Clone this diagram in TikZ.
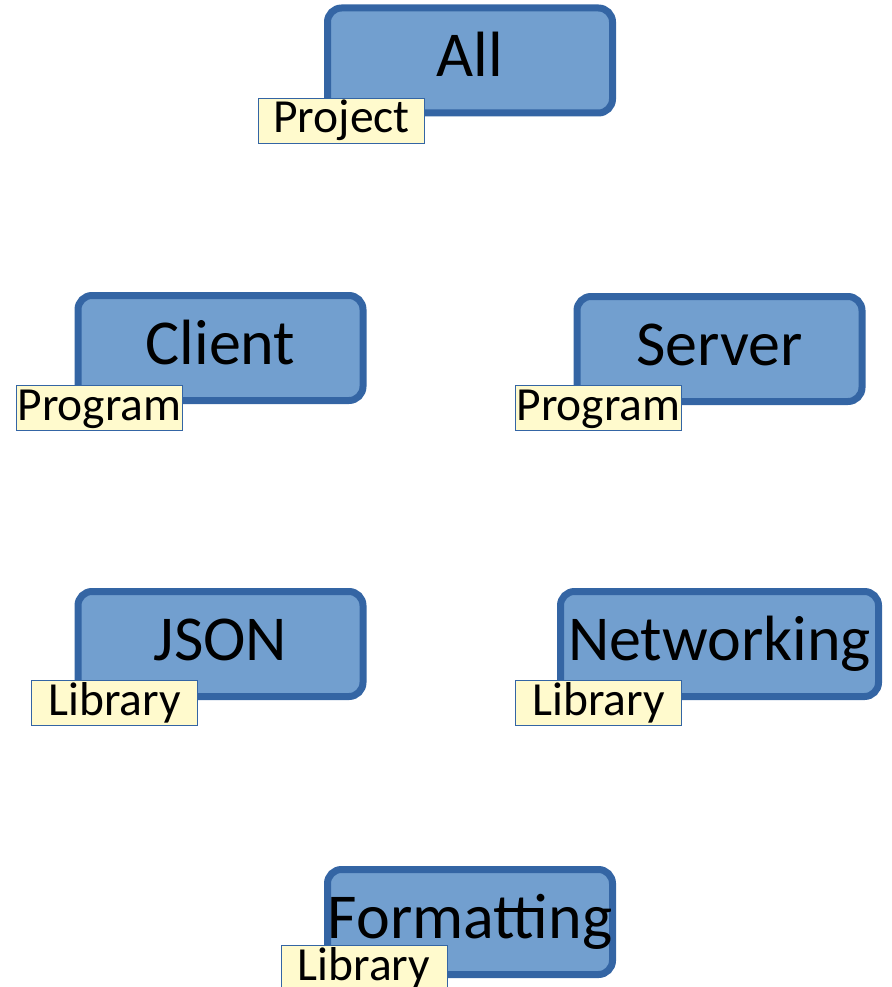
\documentclass[tikz,border=0pt]{standalone}
\usepackage{fontspec}
\setmainfont{Carlito}
\definecolor{boxfill}{HTML}{729FCF}
\definecolor{boxline}{HTML}{3465A4}
\definecolor{tagfill}{HTML}{FFFACD}
\begin{document}
\begin{tikzpicture}[x=1pt, y=-1pt]
  \tikzstyle{part} = [draw=boxline, fill=boxfill, line width=7pt, rounded corners=14pt, inner sep=0pt,
                      minimum width=285pt, minimum height=105pt, text height=44pt, text depth=11pt,
                      font=\fontsize{64}{70}\selectfont]
  \tikzstyle{kind} = [draw=boxline, fill=tagfill, line width=0.8pt, inner sep=0pt,
                      minimum width=166pt, minimum height=45pt, text height=33pt, text depth=9pt,
                      font=\fontsize{47.5}{50}\selectfont]
  \useasboundingbox (0,0) rectangle (891,987);

  \node[part] (all) at (470,60.5) {All};
  \node[part] (client) at (220.5,348) {Client};
  \node[part] (server) at (719.5,349) {Server};
  \node[part] (json) at (220.5,644) {JSON};
  \node[part, minimum width=318pt] (net) at (719.5,644) {Networking};
  \node[part] (fmt) at (470,922) {Formatting};

  \node[kind] (allkind) at (341.5,121) {Project};
  \node[kind] (clientkind) at (99.5,408) {Program};
  \node[kind] (serverkind) at (598.5,408) {Program};
  \node[kind] (jsonkind) at (114.5,703) {Library};
  \node[kind] (netkind) at (598.5,703) {Library};
  \node[kind] (fmtkind) at (364,968) {Library};
\end{tikzpicture}
\end{document}
